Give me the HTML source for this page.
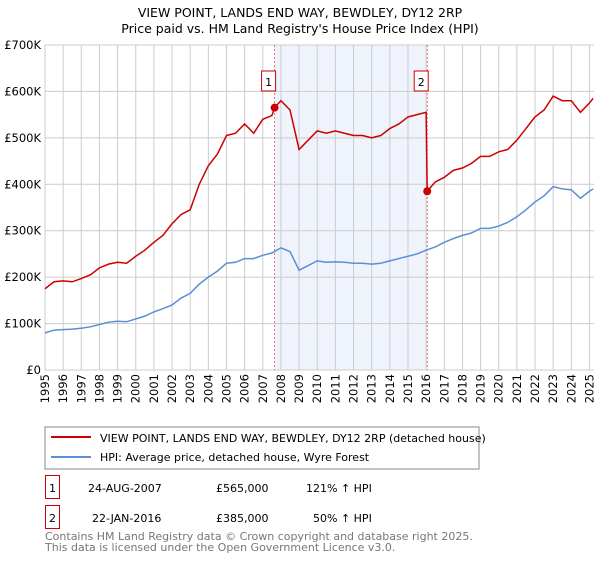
<!DOCTYPE html>
<html><head><meta charset="utf-8"><style>
body{margin:0;background:#fff;font-family:"Liberation Sans","DejaVu Sans",sans-serif;}
svg text{font-family:"DejaVu Sans","Liberation Sans",sans-serif;}
</style></head><body>
<svg id="c" width="600" height="560" viewBox="0 0 600 560" xmlns="http://www.w3.org/2000/svg">
<text x="300" y="17" text-anchor="middle" font-size="12.5" fill="#000">VIEW POINT, LANDS END WAY, BEWDLEY, DY12 2RP</text>
<text x="300" y="33" text-anchor="middle" font-size="12.5" fill="#000">Price paid vs. HM Land Registry's House Price Index (HPI)</text>
<g id="grid"></g><g id="series"></g>
<rect x="45" y="427" width="434" height="42" fill="#fff" stroke="#888"/>
<line x1="51" y1="437" x2="91" y2="437" stroke="#cc0000" stroke-width="2"/>
<text x="100" y="442" font-size="11">VIEW POINT, LANDS END WAY, BEWDLEY, DY12 2RP (detached house)</text>
<line x1="51" y1="457" x2="91" y2="457" stroke="#5b8fd4" stroke-width="2"/>
<text x="100" y="461" font-size="11">HPI: Average price, detached house, Wyre Forest</text>
<rect x="45.5" y="475.5" width="14" height="23" fill="none" stroke="#cc0000"/>
<text x="52.5" y="492" font-size="11" text-anchor="middle">1</text>
<text x="88" y="492" font-size="11">24-AUG-2007</text>
<text x="216" y="492" font-size="11">£565,000</text>
<text x="306" y="492" font-size="11">121% ↑ HPI</text>
<rect x="45.5" y="505.5" width="14" height="23" fill="none" stroke="#cc0000"/>
<text x="52.5" y="522" font-size="11" text-anchor="middle">2</text>
<text x="92" y="522" font-size="11">22-JAN-2016</text>
<text x="216" y="522" font-size="11">£385,000</text>
<text x="313" y="522" font-size="11">50% ↑ HPI</text>
<text x="45" y="540" font-size="11" fill="#777">Contains HM Land Registry data © Crown copyright and database right 2025.</text>
<text x="45" y="551" font-size="11" fill="#777">This data is licensed under the Open Government Licence v3.0.</text>
</svg>
<script>
const yTicks=[0,100,200,300,400,500,600,700];
const yTickLabels=["£0","£100K","£200K","£300K","£400K","£500K","£600K","£700K"];
const xYears=[1995,1996,1997,1998,1999,2000,2001,2002,2003,2004,2005,2006,2007,2008,2009,2010,2011,2012,2013,2014,2015,2016,2017,2018,2019,2020,2021,2022,2023,2024,2025];
const hpiDates=[1995,1995.5,1996,1996.5,1997,1997.5,1998,1998.5,1999,1999.5,2000,2000.5,2001,2001.5,2002,2002.5,2003,2003.5,2004,2004.5,2005,2005.5,2006,2006.5,2007,2007.5,2008,2008.5,2009,2009.5,2010,2010.5,2011,2011.5,2012,2012.5,2013,2013.5,2014,2014.5,2015,2015.5,2016,2016.5,2017,2017.5,2018,2018.5,2019,2019.5,2020,2020.5,2021,2021.5,2022,2022.5,2023,2023.5,2024,2024.5,2025,2025.2];
const hpiValues=[80,86,87,88,90,93,98,103,105,104,110,116,125,132,140,155,165,185,200,213,230,232,240,240,247,252,263,255,215,225,235,232,233,232,230,230,228,230,235,240,245,250,258,265,275,283,290,295,305,305,310,318,330,345,362,375,395,390,388,370,385,390];
const priceDates=[1995,1995.5,1996,1996.5,1997,1997.5,1998,1998.5,1999,1999.5,2000,2000.5,2001,2001.5,2002,2002.5,2003,2003.5,2004,2004.5,2005,2005.5,2006,2006.5,2007,2007.5,2007.65,2008,2008.5,2009,2009.5,2010,2010.5,2011,2011.5,2012,2012.5,2013,2013.5,2014,2014.5,2015,2015.5,2016,2016.06,2016.5,2017,2017.5,2018,2018.5,2019,2019.5,2020,2020.5,2021,2021.5,2022,2022.5,2023,2023.5,2024,2024.5,2025,2025.2];
const priceValues=[175,190,192,190,197,205,220,228,232,230,245,258,275,290,315,335,345,400,440,465,505,510,530,510,540,548,565,580,560,475,495,515,510,515,510,505,505,500,505,520,530,545,550,555,385,405,415,430,435,445,460,460,470,475,495,520,545,560,590,580,580,555,575,585];
const saleDates=[2007.65,2016.06];
const saleValues=[565,385];
const saleLabels=["1","2"];
const NS="http://www.w3.org/2000/svg";
const X0=45,X1=594,Y0=370,Y1=45;
const xs=d=>X0+(d-1995)/(2025.25-1995)*(X1-X0);
const ys=v=>Y0-v/700*(Y0-Y1);
function mk(t,a,p){const e=document.createElementNS(NS,t);for(const k in a)e.setAttribute(k,a[k]);p.appendChild(e);return e;}
const g=document.getElementById('grid'),s=document.getElementById('series');
const shade=mk('rect',{x:xs(saleDates[0]),y:Y1,width:xs(saleDates[1])-xs(saleDates[0]),height:Y0-Y1,fill:'#eef3fc'},g);


yTicks.forEach((v,i)=>{
 const l=mk('line',{x1:X0,x2:X1,y1:ys(v),y2:ys(v),stroke:'#ccc'},g);
 
 
 const t=mk('text',{x:X0-4,y:ys(v)+4,'text-anchor':'end','font-size':'11.5'},g);
 
 
 t.textContent=yTickLabels[i];
});
xYears.forEach(yr=>{
 const l=mk('line',{x1:xs(yr),x2:xs(yr),y1:Y1,y2:Y0,stroke:'#ccc'},g);
 
 
 const t=mk('text',{x:0,y:0,'text-anchor':'end','font-size':'11.5',transform:`translate(${xs(yr)+4},${Y0+4}) rotate(-90)`},g);
 
 
 t.textContent=yr;
});
mk('line',{x1:X0,x2:X0,y1:Y1,y2:Y0,stroke:'#ccc'},g);
saleDates.forEach((d,i)=>{
 const l=mk('line',{x1:xs(d),x2:xs(d),y1:Y1,y2:Y0,stroke:'#e05050','stroke-dasharray':'2,2','stroke-width':0.8},g);
 
 
});
const hp=mk('polyline',{points:hpiDates.map((d,i)=>xs(d)+','+ys(hpiValues[i])).join(' '),fill:'none',stroke:'#5b8fd4','stroke-width':1.5},s);


const pp=mk('polyline',{points:priceDates.map((d,i)=>xs(d)+','+ys(priceValues[i])).join(' '),fill:'none',stroke:'#cc0000','stroke-width':1.5},s);


saleDates.forEach((d,i)=>{
 const c=mk('circle',{cx:xs(d),cy:ys(saleValues[i]),r:4,fill:'#cc0000'},s);
 
 
 const b=mk('rect',{x:xs(d)-13,y:71,width:14,height:20,fill:'#fff',stroke:'#cc0000'},s);
 
 
 const t=mk('text',{x:xs(d)-6,y:86,'text-anchor':'middle','font-size':'11'},s);
 t.textContent=saleLabels[i];
});
</script>
</body></html>
